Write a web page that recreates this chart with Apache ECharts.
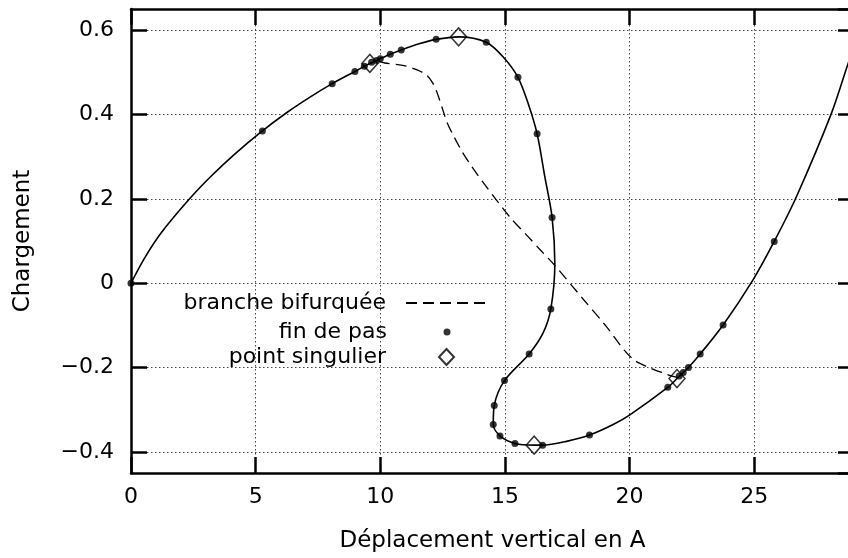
<!DOCTYPE html>
<html><head><meta charset="utf-8">
<script src="https://cdn.jsdelivr.net/npm/echarts@6/dist/echarts.min.js"></script>
<style>html,body{margin:0;padding:0;background:#fff}#c{width:848px;height:558px}</style>
</head><body><div id="c"></div>
<script>
// Main equilibrium path (solid line)
const curveX = [0, 0.55, 1.22, 2.35, 3.22, 4.16, 5.27, 6.24, 7.18, 8.07, 8.98, 9.36, 9.58, 10.0, 10.40, 10.84, 11.59, 12.24, 13.14, 14.25, 14.93, 15.52, 15.93, 16.29, 16.60, 16.89, 17.0, 16.84, 16.53, 15.97, 14.98, 14.57, 14.53, 14.80, 15.40, 16.17, 16.51, 17.47, 18.39, 19.34, 20.01, 21.53, 21.90, 22.15, 22.36, 22.83, 23.75, 24.95, 25.80, 26.69, 28.09, 28.72, 29.0];
const curveY = [0, 0.060, 0.120, 0.200, 0.254, 0.306, 0.361, 0.404, 0.441, 0.473, 0.502, 0.514, 0.521, 0.532, 0.543, 0.553, 0.568, 0.578, 0.584, 0.571, 0.536, 0.488, 0.426, 0.354, 0.252, 0.156, 0.047, -0.061, -0.118, -0.168, -0.231, -0.290, -0.335, -0.362, -0.380, -0.384, -0.384, -0.375, -0.360, -0.335, -0.312, -0.247, -0.226, -0.212, -0.200, -0.168, -0.099, 0.008, 0.099, 0.205, 0.402, 0.513, 0.562];

// Step ends (fin de pas)
const stepX = [0, 5.27, 8.07, 8.98, 9.36, 9.65, 9.85, 10.0, 10.40, 10.84, 12.24, 14.25, 15.52, 16.29, 16.89, 16.84, 15.97, 14.98, 14.57, 14.53, 14.80, 15.40, 16.51, 18.39, 21.53, 21.99, 22.15, 22.36, 22.83, 23.75, 25.80];
const stepY = [0, 0.361, 0.473, 0.502, 0.514, 0.524, 0.528, 0.532, 0.543, 0.553, 0.578, 0.571, 0.488, 0.354, 0.156, -0.061, -0.168, -0.231, -0.290, -0.335, -0.362, -0.380, -0.384, -0.360, -0.247, -0.220, -0.212, -0.200, -0.168, -0.099, 0.099];

// Singular points (point singulier)
const singX = [9.58, 13.14, 16.17, 21.90];
const singY = [0.521, 0.584, -0.384, -0.226];

// Bifurcated branch (dashed)
const branchX = [9.95, 10.18, 11.0, 11.5, 11.86, 12.1, 12.3, 12.5, 12.7, 12.95, 13.3, 13.72, 14.2, 14.66, 15.25, 15.87, 16.4, 17.0, 18.14, 19.07, 19.8, 20.2, 20.7, 21.3, 21.74, 21.95];
const branchY = [0.526, 0.522, 0.515, 0.505, 0.493, 0.475, 0.448, 0.412, 0.378, 0.348, 0.310, 0.272, 0.233, 0.197, 0.153, 0.114, 0.080, 0.042, -0.038, -0.103, -0.160, -0.183, -0.198, -0.212, -0.221, -0.224];

const xTickInterval = 5;
const xRange = [0, 29];
const yRange = [-0.45, 0.65];

const seriesNames = ['branche bifurquée', 'fin de pas', 'point singulier'];
const xName = 'Déplacement vertical en A';
const yName = 'Chargement';

const zip = (a, b) => a.map((v, i) => [v, b[i]]);

const labelFont = 'DejaVu Sans';
const gridLine = {show: true, lineStyle: {color: '#444', width: 1, type: [1.5, 2.5]}};
const frameLine = {show: true, onZero: false, lineStyle: {color: '#000', width: 2.5}};
const tickStyle = {show: true, inside: true, length: 16, lineStyle: {color: '#000', width: 2.5}};

const chart = echarts.init(document.getElementById('c'), null, {renderer: 'canvas'});
const legendText = pad => ({fontFamily: labelFont, fontSize: 22, color: '#000', padding: [0, pad, 0, 0]});
const legendBase = {orient: 'vertical', align: 'right', padding: 0, selectedMode: false};
chart.setOption({
  animation: false,
  backgroundColor: '#fff',
  grid: {left: 131, top: 9, width: 723, height: 464, containLabel: false, outerBoundsMode: 'none'},
  legend: [
    Object.assign({}, legendBase, {data: [seriesNames[0]], right: 361, top: 292, itemWidth: 80, itemHeight: 14,
      itemStyle: {opacity: 0}, textStyle: legendText(15)}),
    Object.assign({}, legendBase, {data: [seriesNames[1]], right: 397.5, top: 321, itemWidth: 7, itemHeight: 7,
      textStyle: legendText(51.5)}),
    Object.assign({}, legendBase, {data: [seriesNames[2]], right: 393, top: 346, itemWidth: 15, itemHeight: 16,
      textStyle: legendText(48)})
  ],
  xAxis: [
    {
      type: 'value', position: 'bottom', min: xRange[0], max: xRange[1], interval: xTickInterval,
      axisLine: frameLine, axisTick: tickStyle, splitLine: gridLine,
      axisLabel: {show: true, showMaxLabel: false, margin: 13, fontFamily: labelFont, fontSize: 22, color: '#000'},
      name: xName, nameLocation: 'middle', nameGap: 57,
      nameTextStyle: {fontFamily: labelFont, fontSize: 23, color: '#000'}
    },
    {
      type: 'value', position: 'top', min: xRange[0], max: xRange[1], interval: xTickInterval,
      axisLine: frameLine, axisTick: tickStyle, splitLine: {show: false}, axisLabel: {show: false}
    }
  ],
  yAxis: [
    {
      type: 'value', position: 'left', min: yRange[0], max: yRange[1], splitNumber: 5,
      axisLine: frameLine, axisTick: tickStyle, splitLine: gridLine,
      axisLabel: {
        show: true, showMinLabel: false, showMaxLabel: false, margin: 17,
        fontFamily: labelFont, fontSize: 22, color: '#000',
        formatter: v => { const r = Number(v.toFixed(1)); return r < 0 ? '\u2212' + (-r) : String(r); }
      },
      name: yName, nameLocation: 'middle', nameGap: 96, nameRotate: 90,
      nameTextStyle: {fontFamily: labelFont, fontSize: 23, color: '#000'}
    },
    {
      type: 'value', position: 'right', min: yRange[0], max: yRange[1], splitNumber: 5,
      axisLine: frameLine, axisTick: tickStyle, splitLine: {show: false}, axisLabel: {show: false}
    }
  ],
  series: [
    {
      name: 'chemin', type: 'line', data: zip(curveX, curveY), symbol: 'none', smooth: 0.3,
      lineStyle: {color: '#000', width: 1.6}, z: 3, silent: true
    },
    {
      name: seriesNames[0], type: 'line', data: zip(branchX, branchY), symbol: 'none', smooth: 0.3,
      lineStyle: {color: '#000', width: 1.3, type: [11, 6]}, itemStyle: {color: '#000'}, z: 2, silent: true
    },
    {
      name: seriesNames[1], type: 'scatter', data: zip(stepX, stepY), symbol: 'circle', symbolSize: 7,
      itemStyle: {color: '#000'}, z: 4, silent: true
    },
    {
      name: seriesNames[2], type: 'scatter', data: zip(singX, singY), symbol: 'diamond', symbolSize: [16, 18],
      itemStyle: {color: 'rgba(0,0,0,0)', borderColor: '#000', borderWidth: 1.5}, z: 5, silent: true
    }
  ]
});
</script>
</body></html>
